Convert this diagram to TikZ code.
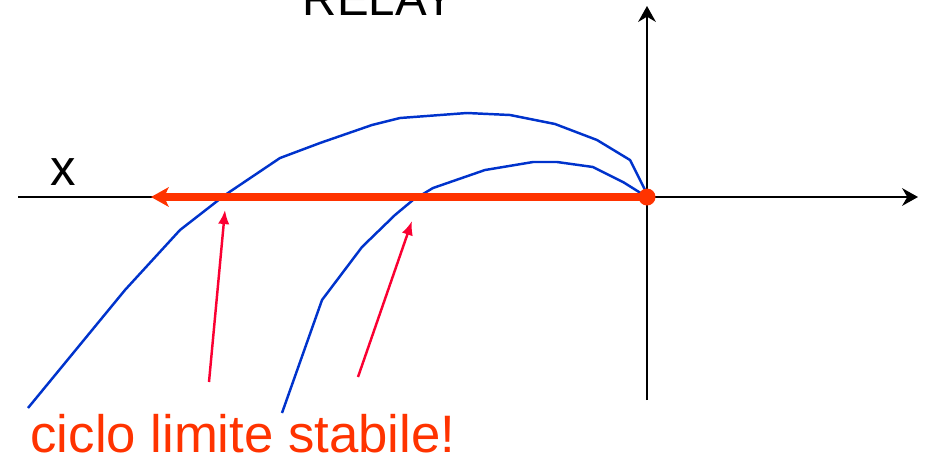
\documentclass[tikz,border=0pt]{standalone}
\usepackage{fontspec}
\setmainfont{Liberation Sans}
\usetikzlibrary{arrows.meta}

\definecolor{arancio}{RGB}{255,51,0}
\definecolor{rosso}{RGB}{250,0,50}
\definecolor{blu}{RGB}{0,51,204}

\begin{document}
\begin{tikzpicture}[x=0.02cm,y=-0.02cm,
  asse/.style={line width=1.5pt, -{Stealth[length=9pt,width=10pt]}},
  traiettoria/.style={blu, line width=1.4pt, line join=round},
  freccia/.style={rosso, line width=1.4pt, -{Latex[length=8pt,width=6.5pt]}}]

\useasboundingbox (0,0) rectangle (927,457);

% Assi
\coordinate (O) at (647,197);
\coordinate (xsx) at (18,197);
\coordinate (xdx) at (918,197);
\coordinate (ybasso) at (647,400);
\coordinate (yalto) at (647,6);
\draw[asse] (xsx) -- (xdx);
\draw[asse] (ybasso) -- (yalto);

% Titolo (tagliato in alto)
\node[anchor=base, font=\fontsize{27}{32}\selectfont] (relay) at (379,15) {RELAY};

% Etichetta asse
\node[anchor=base, font=\fontsize{29}{34}\selectfont] (xlab) at (63,185) {x};

% Traiettorie
\draw[traiettoria] (28,408) -- (125,290) -- (180,230) -- (225,195) -- (280,158)
  -- (320,143) -- (372,125) -- (400,118) -- (467,113) -- (510,115) -- (555,124)
  -- (597,140) -- (630,160) -- (645,190) -- (O);
\draw[traiettoria] (282,413) -- (322,300) -- (362,247) -- (395,215) -- (413,200)
  -- (433,188) -- (485,170) -- (533,162) -- (557,162) -- (593,167) -- (623,182)
  -- (O);

% Ciclo limite (relay)
\coordinate (fine) at (151,197);
\draw[arancio, line width=4pt, -{Stealth[length=10pt,width=11pt,inset=2.5pt]}] (O) -- (fine);
\fill[arancio] (O) circle (8.5);

% Frecce verso le intersezioni
\coordinate (coda1) at (209,382);
\coordinate (punta1) at (225,210);
\coordinate (coda2) at (358,377);
\coordinate (punta2) at (412,221);
\draw[freccia] (coda1) -- (punta1);
\draw[freccia] (coda2) -- (punta2);

% Testo
\node[anchor=base, text=arancio, font=\fontsize{30}{36}\selectfont] (stabile) at (243,452) {ciclo limite stabile!};

\end{tikzpicture}
\end{document}
